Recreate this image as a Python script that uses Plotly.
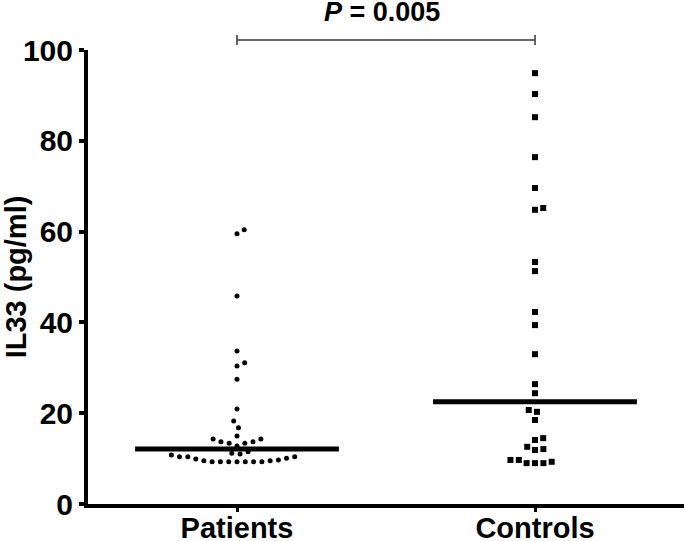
import numpy as np
import plotly.graph_objects as go

# ---------------- data ----------------
categories = ["Patients", "Controls"]
patients = [60.4, 59.5, 45.8, 33.7, 31.1, 30.4, 27.5, 20.9, 18.3, 16.8, 15.0,
            14.3, 14.3, 13.7, 13.7, 13.4, 13.4, 12.8, 11.5, 11.2,
            11.0, 10.8, 10.4, 10.4, 10.4, 10.1, 9.9, 9.7, 9.5, 9.5,
            9.3, 9.3, 9.3, 9.3, 9.3, 9.3, 9.3]
controls = [94.9, 90.3, 85.2, 76.4, 69.6, 65.2, 64.8, 53.3, 51.3, 42.3, 39.4, 33.0,
            26.4, 24.4, 20.7, 20.3, 18.5, 14.5, 14.1, 12.6, 12.1, 11.9,
            9.7, 9.7, 9.3, 9.0, 9.0, 9.0]
medians = [12.1, 22.5]
y_ticks = [0, 20, 40, 60, 80, 100]
p_text = "<i>P</i> = 0.005"

# ---------------- layout geometry ----------------
W, H = 685, 541
ML, MR, MT, MB = 88, 1, 50, 37
plot_w = W - ML - MR
plot_h = H - MT - MB
x_range = [-0.5, 1.5]
y_range = [0, 100]
px_per_x = plot_w / (x_range[1] - x_range[0])
px_per_y = plot_h / (y_range[1] - y_range[0])


def swarm(values, d_px):
    """Simple beeswarm: place each point at the smallest horizontal offset
    that does not collide with already-placed points (pixel space)."""
    vals = np.asarray(values, dtype=float)
    order = np.argsort(vals, kind="stable")
    placed = []
    xs = np.zeros(len(vals))
    for idx in order:
        y = vals[idx] * px_per_y
        cands = [0.0]
        for px, py in placed:
            dy = abs(py - y)
            if dy < d_px:
                dx = np.sqrt(d_px ** 2 - dy ** 2)
                cands += [px + dx, px - dx]
        cands = sorted(cands, key=lambda c: (round(abs(c), 6), -c))
        chosen = cands[-1]
        for c in cands:
            if all((c - px) ** 2 + (y - py) ** 2 >= d_px ** 2 - 1e-6 for px, py in placed):
                chosen = c
                break
        placed.append((chosen, y))
        xs[idx] = chosen
    return xs / px_per_x


groups = [patients, controls]
symbols = ["circle", "square"]
sizes = [5, 6]
spacing = [8.3, 8.4]

fig = go.Figure()
for i, vals in enumerate(groups):
    offs = swarm(vals, spacing[i])
    fig.add_trace(go.Scatter(
        x=i + offs, y=vals, mode="markers",
        marker=dict(symbol=symbols[i], size=sizes[i], color="black",
                    line=dict(width=0)),
        showlegend=False, hoverinfo="y"))

half = 0.342
for i, m in enumerate(medians):
    fig.add_trace(go.Scatter(
        x=[i - half, i + half], y=[m, m], mode="lines",
        line=dict(color="black", width=5), showlegend=False, hoverinfo="skip"))

# significance bracket (10 px above the plot top)
yb = (plot_h + 10) / plot_h
tick = 5 / plot_h
br_col = "#333333"
fig.add_shape(type="line", xref="x", yref="paper", x0=0, x1=1, y0=yb, y1=yb,
              line=dict(color=br_col, width=1.5))
for xx in (0, 1):
    fig.add_shape(type="line", xref="x", yref="paper", x0=xx, x1=xx,
                  y0=yb - tick, y1=yb + tick, line=dict(color=br_col, width=1.5))

font_fam = "Liberation Sans, Arial, sans-serif"
fig.add_annotation(x=0.5, xref="x", y=(plot_h + 37.5) / plot_h, yref="paper",
                   text=p_text, showarrow=False, xanchor="center", yanchor="middle",
                   xshift=-4,
                   font=dict(size=27, color="black", weight="bold", family=font_fam))

fig.update_layout(
    width=W, height=H,
    margin=dict(l=ML, r=MR, t=MT, b=MB, pad=0, autoexpand=False),
    plot_bgcolor="white", paper_bgcolor="white",
    font=dict(family=font_fam, color="black", size=30, weight="bold"),
    xaxis=dict(range=x_range, tickvals=[0, 1], ticktext=categories,
               automargin=False,
               showgrid=False, zeroline=False,
               showline=True, linecolor="black", linewidth=4,
               ticks="outside", ticklen=4, tickwidth=3, tickcolor="black",
               ticklabelstandoff=-9,
               tickfont=dict(size=29, weight="bold", family=font_fam)),
    yaxis=dict(range=y_range, tickvals=y_ticks, automargin=False,
               showgrid=False, zeroline=False,
               showline=True, linecolor="black", linewidth=4,
               ticks="outside", ticklen=5, tickwidth=4, tickcolor="black",
               tickfont=dict(size=30, weight="bold", family=font_fam),
               title=dict(text="IL33 (pg/ml)", standoff=6,
                          font=dict(size=29, weight="bold", family=font_fam))),
)

fig.write_html("out.html",
               config={"displayModeBar": False},
               post_script="document.body.style.margin='0';"
                           "document.body.style.overflow='hidden';")
